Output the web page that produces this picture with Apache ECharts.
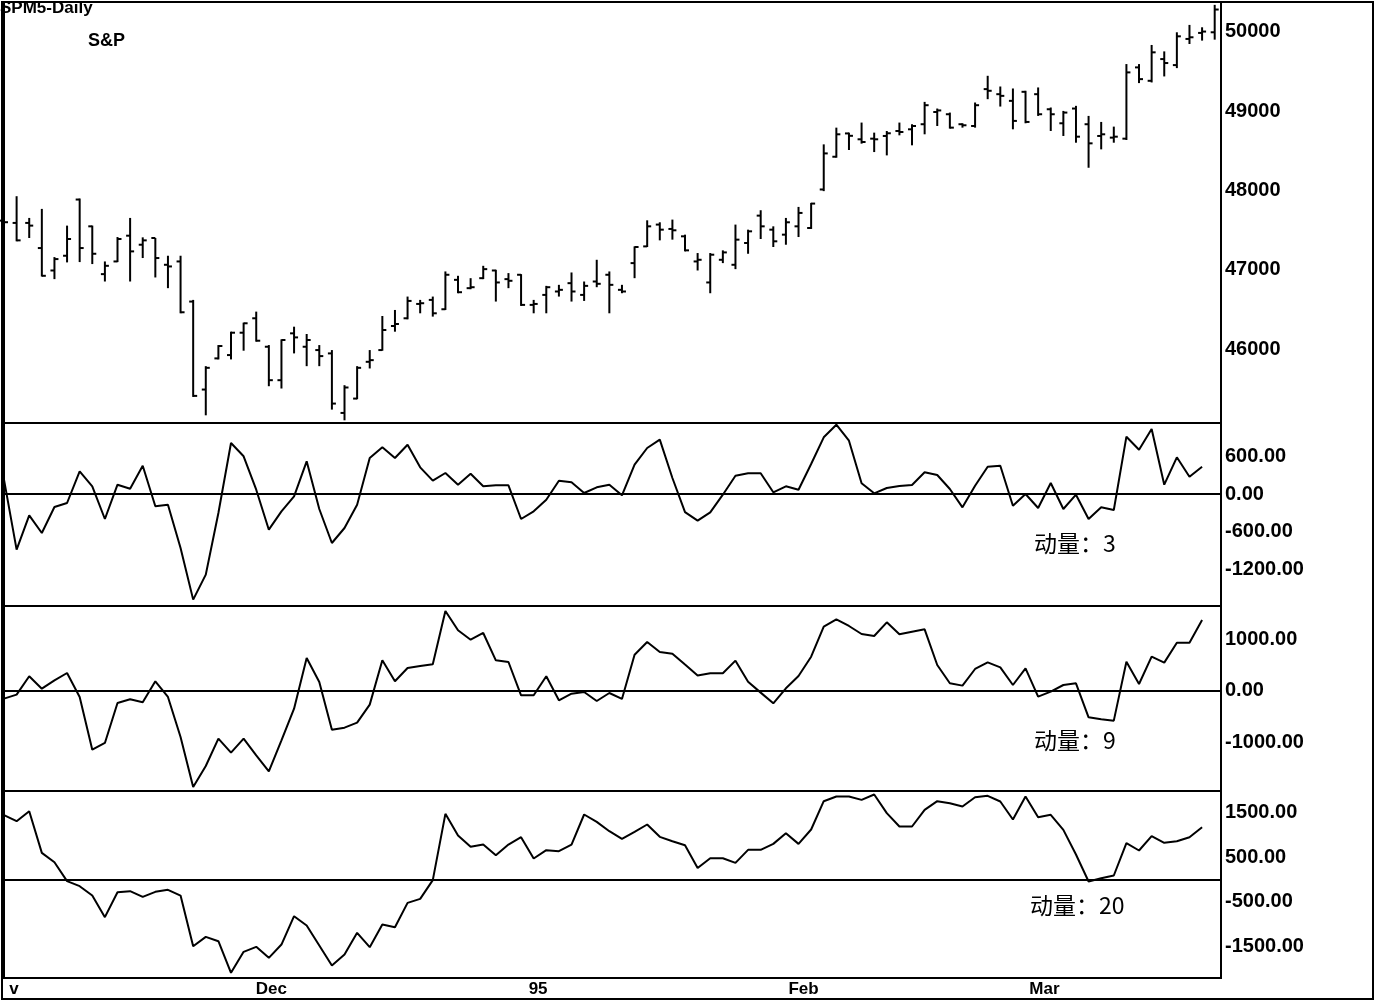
<!DOCTYPE html>
<html>
<head>
<meta charset="utf-8">
<title>SPM5-Daily 动量</title>
<script src="https://cdn.jsdelivr.net/npm/echarts@6/dist/echarts.min.js"></script>
<style>
  html, body { margin: 0; padding: 0; background: #fff; }
  #chart { width: 1377px; height: 1003px; }
</style>
</head>
<body>
<div id="chart"></div>
<script>
// daily S&P bars (one per trading day)
const opens = [47620,47591,47591,47274,46991,47177,47886,47548,46945,47105,47430,47316,47401,47063,47105,46599,45489,45882,45924,46206,
  46388,46029,45607,46198,46029,45987,45945,45194,45375,45839,45987,46291,46388,46569,46620,46502,46873,46768,46894,46991,
  46882,46937,46557,46683,46726,46831,46683,46852,46937,46747,47084,47295,47570,47515,47422,47105,46840,47126,47063,47338,
  47683,47506,47443,47548,47527,48013,48426,48720,48646,48654,48688,48751,48772,48836,48990,48962,48836,48814,49279,49215,
  49131,49245,49215,49025,48848,49034,48836,48688,48667,48654,49553,49384,49658,49582,49912,49988,49996];
const highs = [47680,47928,47654,47768,47160,47557,47899,47557,47105,47413,47654,47409,47401,47177,47177,46620,45784,46050,46219,46333,
  46472,46050,46122,46282,46190,46050,45987,45544,45784,45987,46417,46493,46662,46620,46662,46979,46924,46894,47050,47000,
  46958,46945,46620,46797,46810,46966,46852,47126,46979,46810,47295,47624,47599,47633,47443,47211,47211,47245,47570,47506,
  47751,47548,47654,47793,47844,48582,48793,48730,48857,48730,48751,48857,48836,49118,49034,48983,48848,49110,49447,49312,
  49287,49258,49300,49047,49004,49068,48941,48865,48806,49595,49595,49836,49755,49996,50089,50059,50342];
const lows = [47560,47359,47401,46915,46882,47093,47097,47072,46852,47097,46852,47148,46903,46768,46451,45396,45164,45869,45869,45979,
  46093,45531,45502,45945,45784,45784,45236,45101,45367,45755,45979,46219,46375,46451,46409,46493,46704,46755,46882,46599,
  46768,46544,46451,46451,46662,46599,46607,46780,46451,46704,46894,47287,47371,47380,47232,46991,46704,47084,47008,47202,
  47388,47287,47316,47413,47515,47992,48414,48511,48591,48485,48443,48696,48570,48709,48814,48781,48793,48793,49152,49059,
  48772,48848,48941,48751,48688,48603,48287,48519,48603,48637,49355,49363,49439,49544,49848,49891,49903];
const closes = [47600,47371,47557,46924,47135,47388,47274,47202,47050,47388,47232,47371,47148,47042,46464,45409,45763,46038,46206,46325,
  46105,45607,46114,46147,46114,45911,45312,45515,45763,45860,46240,46316,46607,46578,46451,46937,46717,46780,47008,46840,
  46861,46557,46569,46780,46747,46726,46797,46823,46810,46726,47287,47548,47506,47498,47245,47126,47190,47219,47380,47485,
  47548,47359,47599,47717,47835,48468,48709,48690,48612,48646,48722,48738,48814,49076,49010,48793,48823,49076,49258,49194,
  48878,48865,48962,48962,48983,48679,48595,48709,48679,49490,49405,49743,49608,49945,49933,50005,50283];

// momentum (no value for the last bar)
const mom3 = [229,-890,-341,-624,-208,-144,363,123,-400,149,85,453,-197,-171,-864,-1690,-1290,-304,816,603,
  69,-571,-277,-37,523,-240,-784,-544,-171,576,747,576,789,427,213,336,149,325,123,139,
  139,-400,-277,-91,213,187,16,107,149,-21,469,736,869,256,-290,-427,-293,-11,293,331,
  331,27,123,69,480,907,1109,853,171,11,96,128,144,347,304,80,-213,133,437,453,
  -187,0,-224,176,-240,-11,-400,-213,-256,917,709,1040,149,587,277,437];
const mom9 = [-149,-71,285,45,207,349,-116,-1139,-1009,-233,-162,-220,188,-116,-893,-1863,-1456,-925,-1197,-925,
  -1249,-1559,-958,-343,641,175,-751,-712,-615,-265,595,188,446,485,518,1553,1178,996,1126,595,
  563,-84,-84,285,-181,-52,-19,-194,-39,-155,705,951,757,725,512,300,343,343,589,181,
  -32,-239,52,291,666,1249,1391,1262,1106,1068,1333,1100,1152,1197,505,149,104,427,556,459,
  116,440,-110,-13,116,149,-511,-550,-576,569,136,666,550,938,938,1378];
const mom20 = [1446,1311,1535,599,389,-37,-150,-360,-846,-285,-262,-389,-277,-232,-360,-1498,-1288,-1386,-2097,-1625,
  -1513,-1760,-1461,-824,-1033,-1483,-1932,-1685,-1198,-1520,-1011,-1071,-524,-434,-15,1476,989,734,786,547,
  786,951,472,659,637,786,1461,1296,1086,914,1071,1236,959,861,771,260,479,479,375,667,
  667,801,1041,801,1124,1760,1865,1865,1790,1910,1491,1191,1191,1565,1760,1715,1640,1850,1880,1753,
  1348,1865,1400,1453,1116,562,-45,30,90,816,652,974,824,861,951,1176];

const monthLabels = ['v', 'Dec', '95', 'Feb', 'Mar'];
const monthPos = [0.8, 21.2, 42.35, 63.4, 82.5];
const priceTicks = [46000, 47000, 48000, 49000, 50000];
const mom3Ticks = [-1200, -600, 0, 600];
const mom9Ticks = [-1000, 0, 1000];
const mom20Ticks = [-1500, -500, 500, 1500];

const bars = opens.map((o, i) => [i, o, highs[i], lows[i], closes[i]]);
const toPairs = (arr) => arr.map((v, i) => [i, v]);

const chart = echarts.init(document.getElementById('chart'));

const labelFont = {
  color: '#000',
  fontWeight: 'bold',
  fontSize: 20,
  fontFamily: 'Liberation Sans, Arial, sans-serif'
};

function makeGrid(top, height) {
  return {
    left: 4, width: 1217, top: top, height: height,
    show: true, borderColor: '#000', borderWidth: 2,
    backgroundColor: 'transparent', containLabel: false, outerBoundsMode: 'none'
  };
}

function makeX(gridIndex, withLabels) {
  const ax = {
    type: 'value', gridIndex: gridIndex, min: 0, max: 96.5,
    axisLine: { show: false }, axisTick: { show: false }, splitLine: { show: false },
    axisLabel: { show: false }
  };
  if (withLabels) {
    ax.axisLabel = Object.assign({}, labelFont, {
      show: true, margin: 3, fontSize: 17,
      customValues: monthPos,
      formatter: (v) => monthLabels[monthPos.indexOf(v)] || ''
    });
  }
  return ax;
}

function makeY(gridIndex, min, max, ticks, fmt) {
  return {
    type: 'value', gridIndex: gridIndex, position: 'right', min: min, max: max,
    axisLine: { show: false }, axisTick: { show: false }, splitLine: { show: false },
    axisLabel: Object.assign({ margin: 4, customValues: ticks, formatter: fmt }, labelFont)
  };
}

const fix2 = (v) => v.toFixed(2);

function momSeries(idx, data) {
  return {
    type: 'line', xAxisIndex: idx, yAxisIndex: idx,
    data: toPairs(data), symbol: 'none', silent: true, animation: false,
    lineStyle: { color: '#000', width: 2 },
    markLine: {
      silent: true, symbol: 'none', label: { show: false }, animation: false,
      lineStyle: { color: '#000', width: 2, type: 'solid' },
      data: [{ yAxis: 0 }]
    }
  };
}

const momFont = { fontSize: 23, fontWeight: 'normal', fontFamily: 'Noto Sans CJK SC', color: '#000' };

const option = {
  backgroundColor: '#fff',
  animation: false,
  title: [
    { text: 'SPM5-Daily', left: 0, top: 0, padding: 0,
      textStyle: { fontSize: 17, fontWeight: 'bold', fontFamily: 'Liberation Sans, Arial', color: '#000' } },
    { text: 'S&P', left: 88, top: 32, padding: 0,
      textStyle: { fontSize: 18, fontWeight: 'bold', fontFamily: 'Liberation Sans, Arial', color: '#000' } },
    { text: '动量：3', left: 1034, top: 532, padding: 0, textStyle: momFont },
    { text: '动量：9', left: 1034, top: 729, padding: 0, textStyle: momFont },
    { text: '动量：20', left: 1030, top: 894, padding: 0, textStyle: momFont }
  ],
  graphic: [
    { type: 'rect', shape: { x: 2, y: 2, width: 1371, height: 997 },
      style: { fill: 'none', stroke: '#000', lineWidth: 2 }, silent: true, z: 10 }
  ],
  grid: [makeGrid(2, 421), makeGrid(423, 183), makeGrid(606, 185), makeGrid(791, 187)],
  xAxis: [makeX(0, false), makeX(1, false), makeX(2, false), makeX(3, true)],
  yAxis: [
    makeY(0, 45067, 50378, priceTicks, (v) => String(v)),
    makeY(1, -1792, 1136, mom3Ticks, fix2),
    makeY(2, -1942, 1650, mom9Ticks, fix2),
    makeY(3, -2213, 1989, mom20Ticks, fix2)
  ],
  series: [
    {
      type: 'custom', xAxisIndex: 0, yAxisIndex: 0, silent: true,
      data: bars,
      encode: { x: 0, y: [1, 2, 3, 4] },
      renderItem: function (params, api) {
        const i = api.value(0);
        const o = api.coord([i, api.value(1)]);
        const h = api.coord([i, api.value(2)]);
        const l = api.coord([i, api.value(3)]);
        const c = api.coord([i, api.value(4)]);
        const t = 4;
        const style = { stroke: '#000', lineWidth: 2 };
        return {
          type: 'group',
          children: [
            { type: 'line', shape: { x1: h[0], y1: h[1], x2: l[0], y2: l[1] }, style: style },
            { type: 'line', shape: { x1: o[0] - t, y1: o[1], x2: o[0], y2: o[1] }, style: style },
            { type: 'line', shape: { x1: c[0], y1: c[1], x2: c[0] + t, y2: c[1] }, style: style }
          ]
        };
      }
    },
    momSeries(1, mom3),
    momSeries(2, mom9),
    momSeries(3, mom20)
  ]
};

chart.setOption(option);
</script>
</body>
</html>
